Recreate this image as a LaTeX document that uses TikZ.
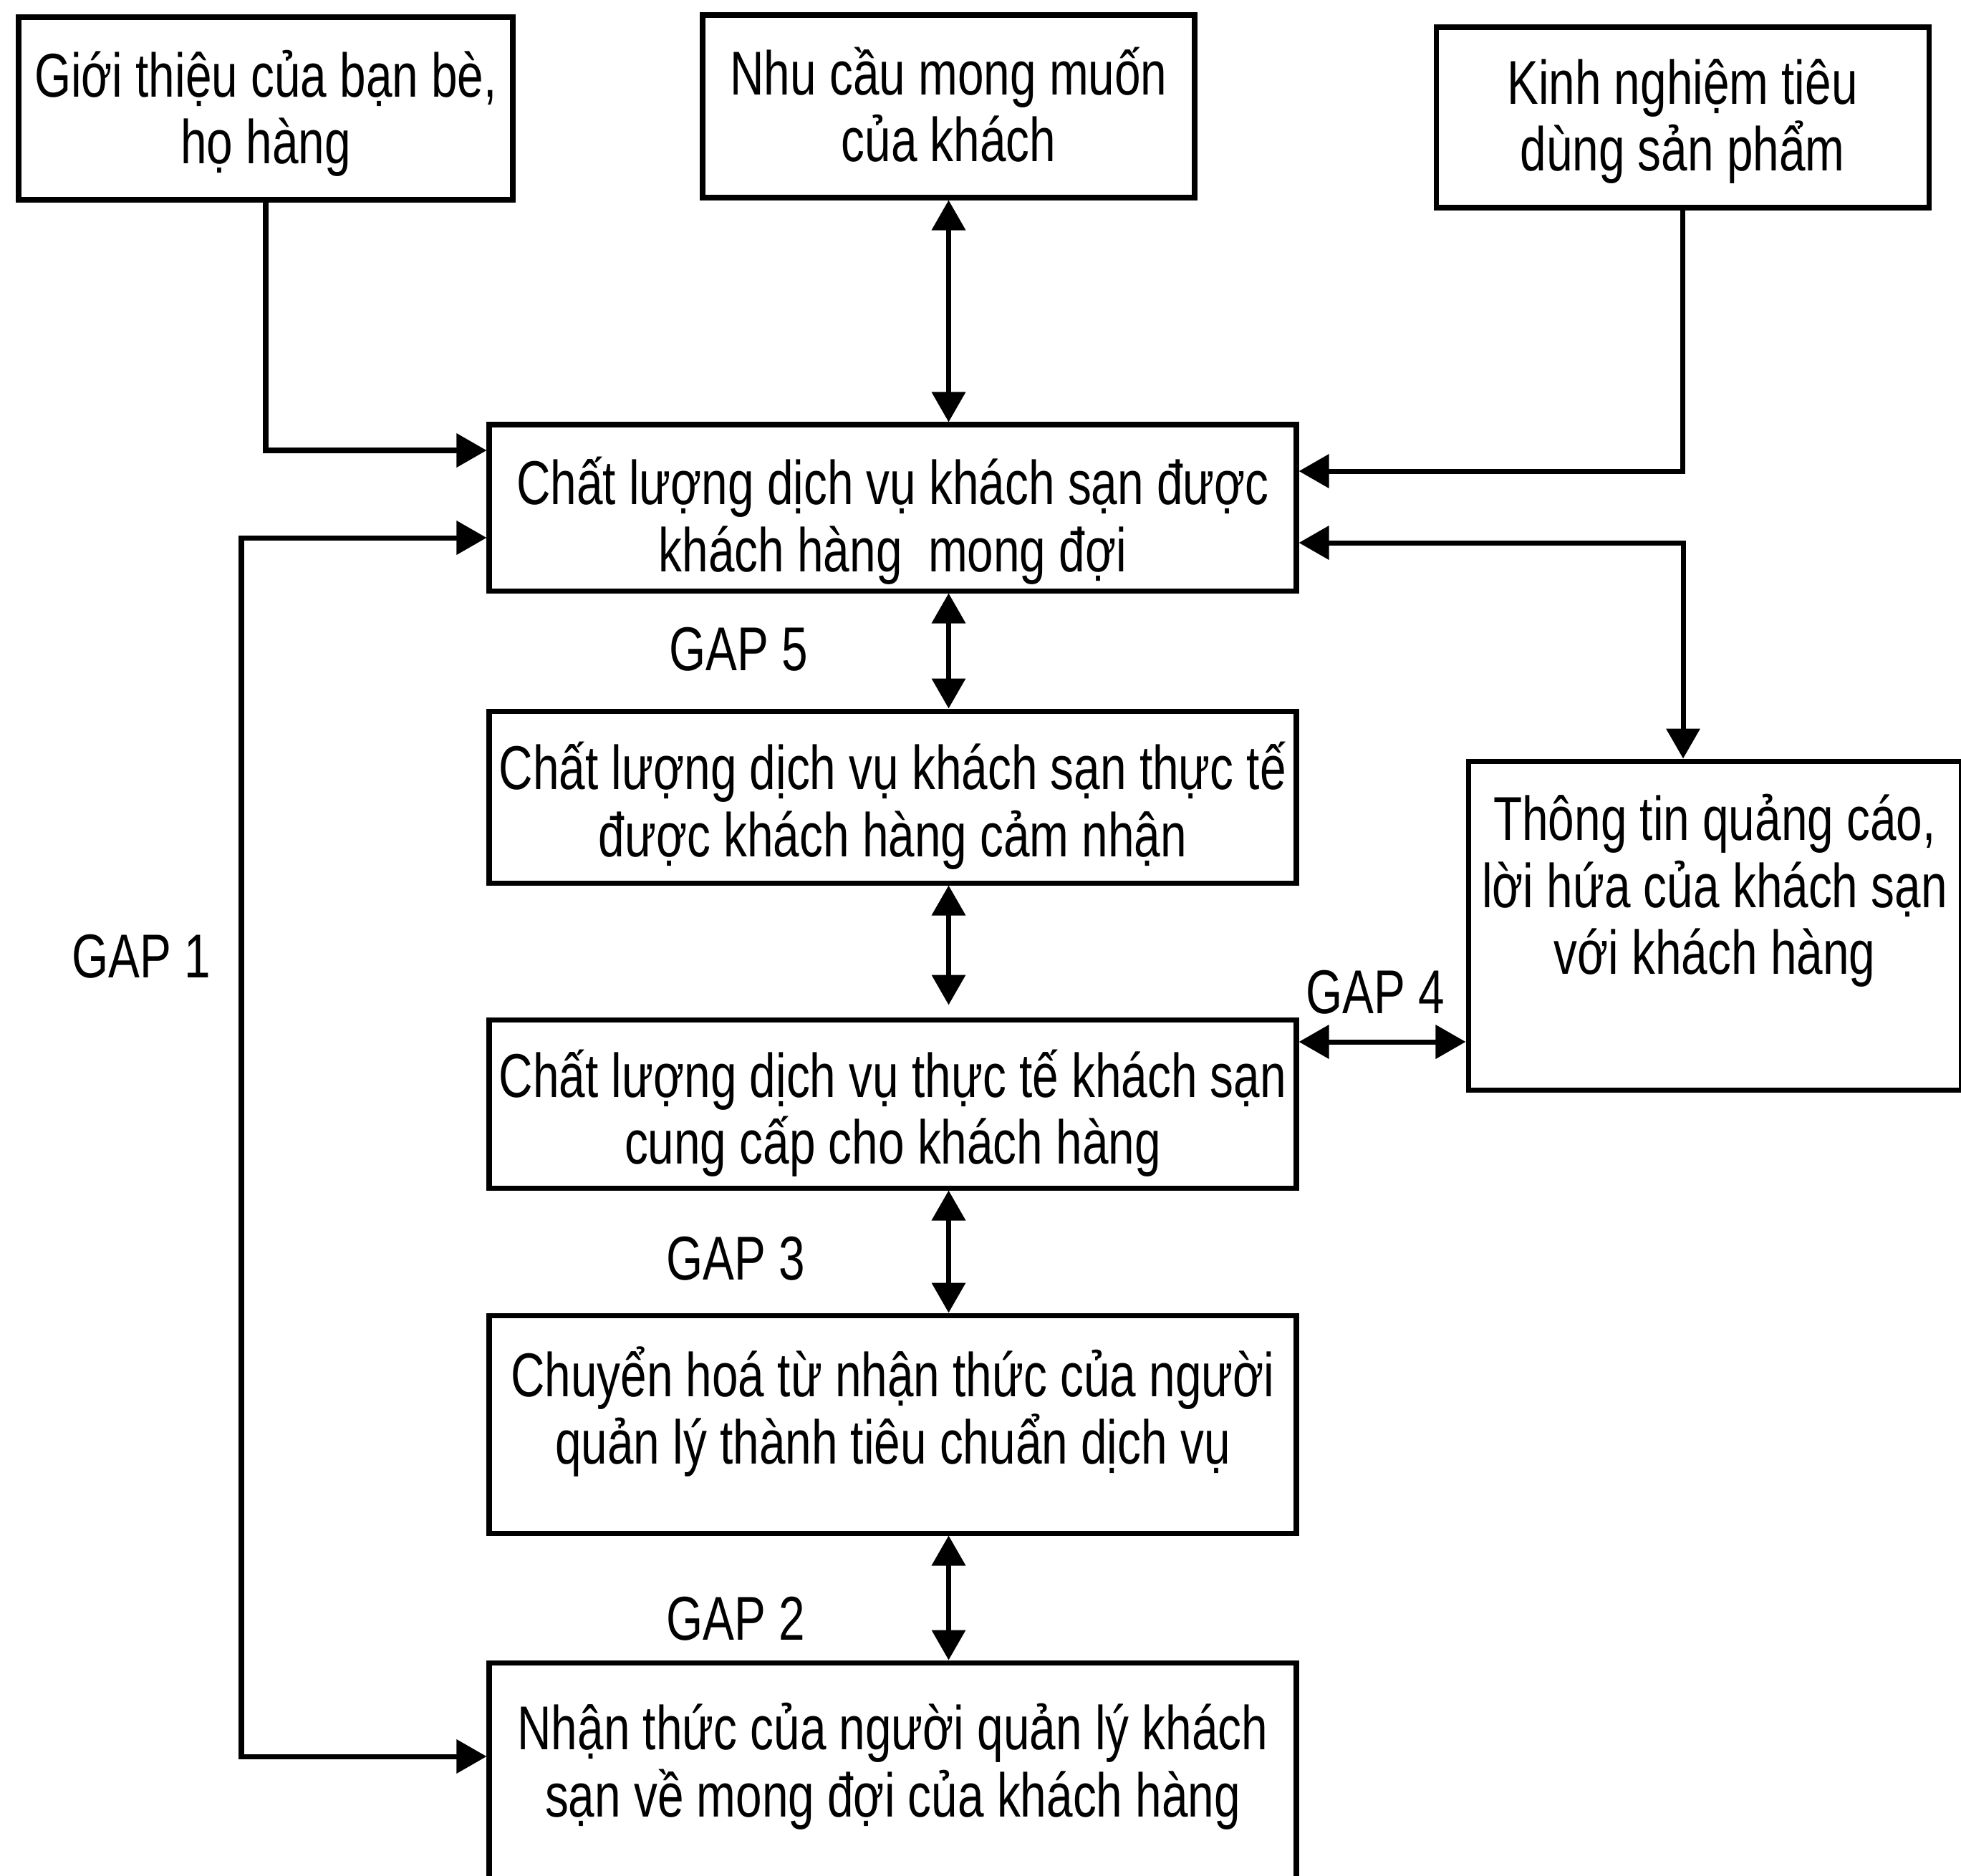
\documentclass[tikz,border=0pt]{standalone}
\usepackage{fontspec}
\setmainfont{Liberation Sans}[FakeStretch=0.76]
\usetikzlibrary{arrows.meta, positioning}

% pads that fix where the lines sit inside a box
\newcommand{\toppad}[1][1cm]{\rule{0pt}{#1}}
\newcommand{\botpad}[1]{\rule[-#1]{0pt}{#1}}

\tikzset{
  box/.style={draw, line width=2pt, inner sep=0pt, align=center, minimum width=11.27cm},
  link/.style={line width=2pt, -{Triangle[length=4.2mm,width=4.6mm]}},
  bilink/.style={line width=2pt, {Triangle[length=4.2mm,width=4.6mm]}-{Triangle[length=4.2mm,width=4.6mm]}},
  gap/.style={inner sep=0pt}
}

\begin{document}
\begin{tikzpicture}[font=\fontsize{24.6}{26.6}\selectfont]
            \useasboundingbox (0,0) rectangle (27.38,-26.20);
            \fill[white] (0,0) rectangle (27.38,-26.20);
            % top row
            \node[box, minimum width=6.90cm, minimum height=2.55cm] (friends) at (3.71,-1.515) {\toppad Giới thiệu của bạn bè,\\ họ hàng\botpad{0.39cm}};
            \node[box, minimum width=6.87cm, minimum height=2.55cm] (needs) at (13.245,-1.485) {\toppad Nhu cầu mong muốn\\ của khách\botpad{0.39cm}};
            \node[box, minimum width=6.88cm, minimum height=2.52cm] (exper) at (23.49,-1.64) {\toppad Kinh nghiệm tiêu\\ dùng sản phẩm\botpad{0.44cm}};
            % middle column
            \node[box, minimum height=2.32cm] (expected) at (12.465,-7.09) {\toppad[1.11cm]Chất lượng dịch vụ khách sạn được\\ khách hàng\ \ mong đợi\botpad{0.26cm}};
            \node[box, minimum height=2.40cm] (perceived) at (12.465,-11.13) {\toppad Chất lượng dịch vụ khách sạn thực tế\\ được khách hàng cảm nhận\botpad{0.27cm}};
            \node[box, minimum height=2.35cm] (delivered) at (12.465,-15.415) {\toppad Chất lượng dịch vụ thực tế khách sạn\\ cung cấp cho khách hàng\botpad{0.25cm}};
            \node[box, minimum height=3.04cm] (specs) at (12.465,-19.89) {\toppad Chuyển hoá từ nhận thức của người\\ quản lý thành tiêu chuẩn dịch vụ\botpad{0.83cm}};
            \node[box, minimum height=3.78cm] (mgmt) at (12.465,-25.11) {\toppad Nhận thức của người quản lý khách\\ sạn về mong đợi của khách hàng\botpad{1.41cm}};
            \node[box, minimum width=6.88cm, minimum height=4.59cm] (promise) at (23.94,-12.925) {\toppad Thông tin quảng cáo,\\ lời hứa của khách sạn\\ với khách hàng\botpad{1.51cm}};
            % gap labels
            \node[gap] (gap5) at (10.31,-9.07) {GAP 5};
            \node[gap] (gap4) at (19.20,-13.86) {GAP 4};
            \node[gap] (gap3) at (10.27,-17.58) {GAP 3};
            \node[gap] (gap2) at (10.27,-22.61) {GAP 2};
            \node[gap] (gap1) at (1.97,-13.36) {GAP 1};
            \coordinate (gapturn) at (3.37,-7.51);
            % connectors
            \draw[link] (friends.south) |- ([yshift=0.8cm]expected.west);
            \draw[bilink] (needs.south) -- (needs.south |- expected.north);
            \draw[link] (exper.south) |- ([yshift=0.51cm]expected.east);
            \draw[bilink] ([yshift=-0.49cm]expected.east) -| ([xshift=-0.44cm]promise.north);
            \draw[bilink] (expected.south -| needs.south) -- (perceived.north -| needs.south);
            \draw[bilink] (perceived.south -| needs.south) -- ([yshift=0.17cm]delivered.north -| needs.south);
            \draw[bilink] (delivered.south -| needs.south) -- (specs.north -| needs.south);
            \draw[bilink] (specs.south -| needs.south) -- (mgmt.north -| needs.south);
            \draw[bilink] ([yshift=0.865cm]delivered.east) -- ([yshift=0.865cm]delivered.east -| promise.west);
            \draw[bilink] ([yshift=-0.42cm]expected.west) -- (gapturn) |- ([yshift=0.58cm]mgmt.west);
        \end{tikzpicture}
\end{document}
